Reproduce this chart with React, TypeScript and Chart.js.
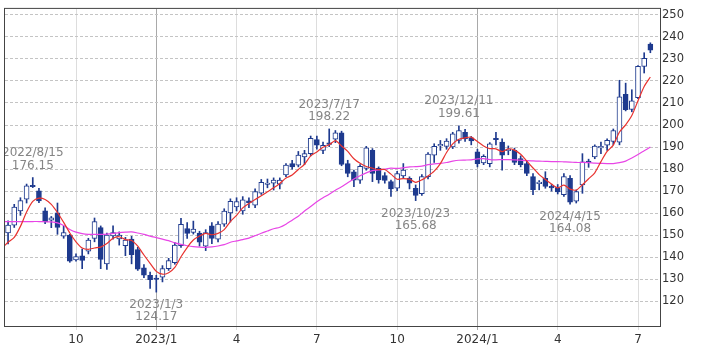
import React, { useEffect, useRef } from "react";
import { Chart, registerables } from "chart.js";

Chart.register(...registerables);

// Weekly candles, week 0 = 2022/7/18, last = 2024/7/15
const opens = [
  151.0, 154.5, 161.0, 166.4, 172.6, 170.1, 161.0, 156.8, 160.1, 149.5,
  150.1, 138.8, 140.6, 142.7, 148.5, 153.4, 137.0, 149.7, 148.3, 145.2,
  148.2, 143.5, 135.2, 131.8, 130.5, 131.0, 134.8, 137.5, 145.2, 153.0,
  151.2, 151.0, 145.0, 154.2, 148.2, 155.0, 160.1, 162.8, 161.0, 165.6,
  163.6, 169.1, 173.0, 173.6, 173.1, 177.3, 182.5, 181.8, 185.5, 187.0,
  193.4, 188.5, 191.8, 193.6, 196.4, 182.5, 178.8, 175.0, 180.3, 188.5,
  180.3, 177.0, 174.3, 171.3, 176.9, 175.8, 171.3, 168.8, 176.6, 186.3,
  190.5, 190.3, 190.0, 193.0, 196.7, 194.2, 187.8, 182.8, 182.5, 193.8,
  192.2, 188.4, 188.5, 184.8, 182.5, 176.6, 173.4, 175.8, 172.2, 171.6,
  168.4, 175.8, 165.4, 172.8, 183.3, 185.5, 189.6, 190.8, 192.5, 192.2,
  213.9, 207.1, 212.4, 226.6, 236.7,
];
const highs = [
  156.5, 164.0, 167.0, 173.2, 176.15, 171.3, 162.4, 158.5, 164.6, 154.2,
  150.4, 141.5, 143.7, 148.6, 157.8, 154.2, 151.0, 154.2, 151.5, 149.0,
  149.5, 144.5, 136.7, 133.3, 131.8, 136.2, 139.5, 146.7, 157.6, 155.7,
  156.4, 151.8, 152.5, 155.7, 156.2, 162.0, 166.5, 167.0, 167.5, 167.0,
  171.0, 175.3, 175.5, 176.0, 176.0, 182.5, 184.0, 188.0, 188.5, 195.0,
  195.0, 192.2, 198.22, 197.5, 197.2, 184.0, 179.5, 182.0, 190.3, 189.3,
  181.0, 178.4, 175.0, 179.0, 182.5, 176.5, 172.8, 177.5, 187.5, 191.5,
  193.0, 193.8, 196.7, 199.61, 198.0, 194.8, 189.0, 186.5, 192.0, 196.7,
  193.7, 190.5, 189.5, 186.0, 183.5, 178.0, 174.8, 178.8, 173.0, 173.0,
  178.0, 177.0, 170.5, 187.0, 184.5, 191.0, 192.2, 193.7, 198.2, 220.3,
  219.0, 216.0, 227.0, 232.8, 237.3,
];
const lows = [
  146.0, 153.5, 159.0, 164.6, 171.6, 164.8, 155.2, 153.4, 150.4, 148.6,
  137.7, 138.2, 134.8, 141.5, 147.0, 134.8, 134.5, 148.2, 145.5, 140.7,
  137.0, 134.0, 130.7, 125.8, 124.17, 128.8, 134.0, 136.8, 144.5, 148.5,
  150.5, 145.0, 143.0, 146.2, 147.0, 154.0, 156.0, 161.0, 159.5, 162.5,
  162.5, 168.5, 171.5, 170.5, 171.0, 176.5, 180.0, 181.0, 182.0, 186.0,
  189.0, 187.0, 190.2, 192.0, 181.5, 176.5, 172.0, 173.5, 179.5, 174.3,
  173.6, 173.6, 167.6, 170.2, 176.0, 171.0, 165.68, 168.0, 175.5, 183.0,
  188.5, 189.0, 189.3, 191.8, 192.5, 191.0, 181.0, 182.0, 181.0, 191.0,
  179.5, 186.5, 182.0, 181.0, 177.0, 168.4, 170.6, 171.3, 170.0, 168.7,
  167.6, 164.08, 164.6, 169.0, 180.8, 184.7, 187.0, 188.5, 191.0, 191.0,
  206.4, 206.0, 212.0, 223.6, 232.8,
];
const closes = [
  154.6, 162.7, 165.7, 172.4, 172.0, 165.5, 156.0, 157.9, 153.5, 151.2,
  138.2, 140.3, 138.6, 147.8, 156.2, 139.0, 150.0, 151.2, 150.1, 147.8,
  141.2, 134.6, 131.8, 129.8, 129.9, 134.8, 138.5, 145.5, 154.9, 150.8,
  152.8, 146.8, 151.2, 148.5, 155.0, 160.9, 165.4, 165.2, 166.0, 164.8,
  169.8, 174.0, 173.6, 175.0, 175.0, 181.8, 181.0, 186.3, 187.0, 194.0,
  190.8, 190.8, 191.2, 196.5, 182.1, 178.0, 175.0, 181.3, 189.7, 178.0,
  175.1, 174.8, 171.0, 178.0, 179.5, 173.6, 168.0, 176.6, 186.8, 190.3,
  191.0, 192.7, 196.0, 197.5, 193.7, 192.8, 182.5, 185.8, 191.5, 193.3,
  186.3, 188.9, 183.0, 182.0, 178.0, 170.6, 173.8, 172.1, 171.4, 169.6,
  176.6, 165.0, 169.8, 183.3, 182.9, 190.4, 190.3, 193.0, 197.5, 212.8,
  207.0, 211.0, 226.6, 230.3, 234.0,
];

// Moving averages, starting one week before the first candle (week -1)
const MA_FIRST_WEEK = -1;
const ma5 = [
  144.0,
  146.8, 149.0, 154.0, 160.5, 165.3, 166.8, 166.2, 164.0, 160.3, 155.8,
  151.0, 147.0, 144.2, 143.6, 144.2, 144.6, 146.2, 148.6, 149.3, 148.0,
  147.6, 145.0, 141.0, 137.2, 133.6, 132.3, 133.0, 135.4, 140.2, 144.4,
  147.8, 149.6, 150.8, 150.2, 150.8, 152.5, 156.2, 159.0, 162.4, 164.4,
  166.2, 167.9, 169.7, 171.5, 173.5, 175.9, 177.3, 179.8, 182.2, 186.0,
  187.8, 189.9, 191.0, 192.9, 190.5, 188.0, 184.7, 182.6, 181.2, 180.4,
  179.8, 179.8, 177.7, 175.4, 175.7, 175.4, 174.0, 175.1, 176.9, 179.1,
  182.5, 187.5, 191.4, 193.5, 194.2, 194.5, 192.5, 190.5, 189.3, 189.2,
  187.9, 189.2, 188.6, 186.7, 183.6, 180.5, 177.5, 175.3, 173.2, 171.5,
  172.7, 170.9, 170.5, 172.9, 175.6, 178.3, 183.4, 188.0, 190.9, 196.8,
  200.1, 204.3, 211.0, 217.5, 221.8,
];
const ma26 = [
  156.2,
  156.2, 156.2, 156.2, 156.2, 156.2, 156.2, 156.1, 156.0, 155.6, 154.4,
  152.6, 151.4, 150.7, 150.4, 150.4, 150.4, 150.5, 150.8, 151.2, 151.4,
  151.5, 151.0, 150.4, 149.6, 148.9, 148.2, 147.5, 146.5, 145.8, 145.2,
  144.8, 144.6, 144.5, 144.7, 145.1, 145.7, 146.8, 147.4, 148.0, 148.7,
  149.8, 150.9, 151.9, 152.9, 153.6, 155.0, 156.8, 158.6, 161.0, 163.0,
  165.2, 167.0, 168.6, 170.4, 172.0, 173.8, 175.5, 177.0, 178.3, 179.3,
  179.6, 180.0, 180.4, 180.3, 180.6, 181.0, 181.1, 181.3, 182.0, 182.4,
  182.6, 183.0, 183.6, 184.0, 184.1, 184.2, 184.6, 184.7, 184.3, 184.2,
  184.3, 184.3, 184.2, 184.0, 183.8, 183.7, 183.6, 183.5, 183.4, 183.4,
  183.3, 183.2, 183.0, 183.0, 182.9, 182.7, 182.6, 182.5, 182.5, 182.9,
  183.6, 185.0, 186.6, 188.3, 190.0,
];

// Axis ticks: week index of the first week of each quarter
const tickWeeks = [11, 24, 37, 50, 63, 76, 89, 102];
const tickLabels = ["10", "2023/1", "4", "7", "10", "2024/1", "4", "7"];
const yearWeeks = [24, 76];
const yTicks = [120, 130, 140, 150, 160, 170, 180, 190, 200, 210, 220, 230, 240, 250];

const notes = [
  { week: 4, date: "2022/8/15", value: 176.15, label: "176.15", side: "high" },
  { week: 24, date: "2023/1/3", value: 124.17, label: "124.17", side: "low" },
  { week: 52, date: "2023/7/17", value: 198.22, label: "198.22", side: "high" },
  { week: 66, date: "2023/10/23", value: 165.68, label: "165.68", side: "low" },
  { week: 73, date: "2023/12/11", value: 199.61, label: "199.61", side: "high" },
  { week: 91, date: "2024/4/15", value: 164.08, label: "164.08", side: "low" },
];

const NAVY = "#1e3a8e";
const FONT = '"DejaVu Sans", Verdana, sans-serif';

const overlayPlugin = {
  id: "overlay",
  afterDatasetsDraw(chart: any) {
    const { ctx, chartArea: a, scales } = chart;
    ctx.save();
    ctx.beginPath();
    ctx.rect(a.left, a.top, a.right - a.left, a.bottom - a.top);
    ctx.clip();
    ctx.font = `12px ${FONT}`;
    ctx.fillStyle = "#858585";
    ctx.textAlign = "center";
    ctx.textBaseline = "middle";
    for (const n of notes) {
      const x = scales.x.getPixelForValue(n.week);
      const y = scales.y.getPixelForValue(n.value);
      if (n.side === "high") {
        ctx.fillText(n.date, x, y - 24.5);
        ctx.fillText(n.label, x, y - 12);
      } else {
        ctx.fillText(n.date, x, y + 13);
        ctx.fillText(n.label, x, y + 25);
      }
    }
    ctx.restore();
    ctx.save();
    ctx.strokeStyle = "#444444";
    ctx.lineWidth = 1;
    ctx.strokeRect(a.left - 0.5, a.top - 0.5, a.right - a.left + 1, a.bottom - a.top + 1);
    ctx.restore();
  },
};

export default function App() {
  const ref = useRef<HTMLCanvasElement | null>(null);

  useEffect(() => {
    document.body.style.margin = "0";
    const canvas = ref.current;
    if (!canvas) return;
    Chart.defaults.font.family = FONT;

    const wicks = highs.map((h, i) => ({ x: i, y: [lows[i], h] }));
    const bodies = opens.map((o, i) => ({
      x: i,
      y: [Math.min(o, closes[i]), Math.max(o, closes[i])],
    }));
    const bodyFill = opens.map((o, i) => (closes[i] >= o ? "#ffffff" : NAVY));
    const ma5Pts = ma5.map((v, i) => ({ x: i + MA_FIRST_WEEK, y: v }));
    const ma26Pts = ma26.map((v, i) => ({ x: i + MA_FIRST_WEEK, y: v }));

    const chart = new Chart(canvas, {
      type: "bar",
      data: {
        datasets: [
          {
            type: "line",
            data: ma5Pts,
            borderColor: "#e8322f",
            borderWidth: 1.2,
            pointRadius: 0,
            tension: 0.25,
            order: 0,
          } as any,
          {
            type: "line",
            data: ma26Pts,
            borderColor: "#e845e6",
            borderWidth: 1.2,
            pointRadius: 0,
            tension: 0.25,
            order: 0,
          } as any,
          {
            type: "bar",
            data: bodies,
            backgroundColor: bodyFill,
            borderColor: NAVY,
            borderWidth: 1,
            borderSkipped: false,
            barThickness: 5,
            minBarLength: 1.5,
            grouped: false,
            order: 1,
          } as any,
          {
            type: "bar",
            data: wicks,
            backgroundColor: NAVY,
            borderWidth: 0,
            barThickness: 1,
            grouped: false,
            order: 2,
          } as any,
        ],
      },
      options: {
        responsive: false,
        animation: false,
        layout: { padding: { left: 5, top: 5, right: 0, bottom: 0 } },
        plugins: { legend: { display: false }, tooltip: { enabled: false } },
        scales: {
          x: {
            type: "linear",
            offset: false,
            min: -0.4965,
            max: 105.562,
            afterBuildTicks: (scale: any) => {
              scale.ticks = tickWeeks.map((v) => ({ value: v }));
            },
            afterFit: (scale: any) => {
              scale.height = 28;
            },
            ticks: {
              autoSkip: false,
              maxRotation: 0,
              padding: 3,
              color: "#333333",
              font: { size: 12, family: FONT },
              callback: (_v: any, i: number) => tickLabels[i],
            },
            grid: {
              offset: false,
              color: (c: any) =>
                c.tick && yearWeeks.includes(c.tick.value) ? "#a9a9a9" : "#dddddd",
              tickLength: 4,
              lineWidth: 1,
            },
            border: { display: false },
          },
          y: {
            type: "linear",
            position: "right",
            min: 108.79,
            max: 252.69,
            afterBuildTicks: (scale: any) => {
              scale.ticks = yTicks.map((v) => ({ value: v }));
            },
            afterFit: (scale: any) => {
              scale.width = 49;
            },
            ticks: {
              padding: 2,
              color: "#333333",
              font: { size: 11.5, family: FONT },
              callback: (v: any) => String(v),
            },
            grid: { color: "#c4c4c4", drawTicks: false, lineWidth: 1 },
            border: { display: false, dash: [3, 2] },
          },
        },
      },
      plugins: [overlayPlugin],
    } as any);

    return () => chart.destroy();
  }, []);

  return (
    <div style={{ width: 709, height: 354 }}>
      <canvas ref={ref} width={709} height={354} style={{ display: "block" }} />
    </div>
  );
}
